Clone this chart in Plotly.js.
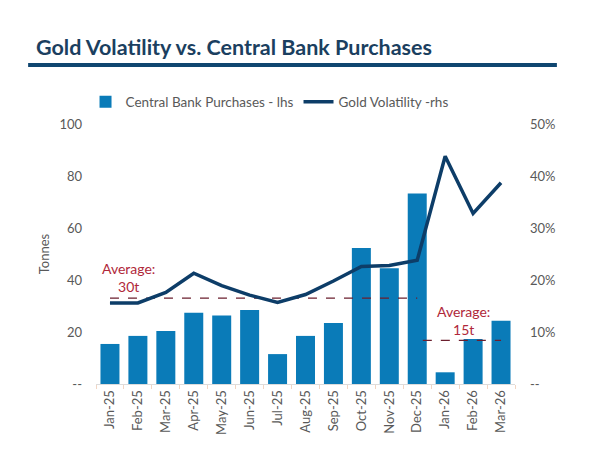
<!DOCTYPE html>
<html>
<head>
<meta charset="utf-8">
<script src="https://cdn.plot.ly/plotly-3.0.1.min.js"></script>
<style>html,body{margin:0;padding:0;background:#fff;}#chart{width:589px;height:464px;}</style>
</head>
<body>
<div id="chart"></div>
<script>
// Data
var months = ["Jan-25","Feb-25","Mar-25","Apr-25","May-25","Jun-25","Jul-25","Aug-25","Sep-25","Oct-25","Nov-25","Dec-25","Jan-26","Feb-26","Mar-26"];
var cbPurchases = [15.4, 18.5, 20.4, 27.4, 26.3, 28.5, 11.5, 18.5, 23.5, 52.3, 44.5, 73.3, 4.5, 17.3, 24.3];
var goldVol = [15.6, 15.6, 17.6, 21.3, 18.9, 17.1, 15.7, 17.2, 19.8, 22.6, 22.8, 23.8, 43.8, 32.8, 38.7];
var months2025 = months.slice(0, 12);
var avg2025Level = 33;   // visual position of the dashed line
var avg2026Level = 16.8;
var leftTicks = [0, 20, 40, 60, 80, 100];
var leftTickText = ["--", "20", "40", "60", "80", "100"];
var rightTicks = [0, 10, 20, 30, 40, 50];
var rightTickText = ["--", "10%", "20%", "30%", "40%", "50%"];

var gray = "#595959";
var font = "Lato, 'Open Sans', sans-serif";

var traces = [
  {
    type: "bar", name: "Central Bank Purchases - lhs",
    x: months, y: cbPurchases,
    marker: {color: "#0a7bb8"}, yaxis: "y"
  },
  {
    type: "scatter", mode: "lines", name: "Gold Volatility -rhs",
    x: months, y: goldVol, yaxis: "y2",
    line: {color: "#0d3d68", width: 3.5}
  },
  {
    type: "scatter", mode: "lines", showlegend: false, hoverinfo: "skip",
    x: months2025, y: months2025.map(function(){return avg2025Level;}),
    line: {color: "#6b1f2e", width: 1.2, dash: "dash"}, yaxis: "y"
  }
];

var layout = {
  width: 589, height: 464,
  paper_bgcolor: "#fff", plot_bgcolor: "#fff",
  margin: {l: 96, r: 74, t: 124, b: 80},
  font: {family: font, color: gray, size: 13},
  title: {
    text: "<b>Gold Volatility vs. Central Bank Purchases</b>",
    font: {family: font, size: 21.5, color: "#1b3f60"},
    x: 36/589, xref: "container", xanchor: "left",
    y: 1 - 47/464, yref: "container", yanchor: "middle"
  },
  bargap: 0.32,
  showlegend: true,
  legend: {
    orientation: "h", x: -0.025, xanchor: "left", y: 1.085, yanchor: "middle",
    font: {size: 13.5, color: gray}, itemwidth: 30, traceorder: "normal"
  },
  xaxis: {
    type: "category", tickangle: -90, tickfont: {size: 13, color: gray},
    showline: true, linecolor: "#dcdcdc", linewidth: 1,
    ticks: "outside", tickson: "boundaries", ticklen: 4, tickcolor: "#f2d6c4",
    showgrid: false, zeroline: false, range: [-0.5, 14.5]
  },
  yaxis: {
    range: [0, 100], tickvals: leftTicks, ticktext: leftTickText,
    showgrid: false, zeroline: false, showline: false, ticks: "",
    ticklabelstandoff: 13, tickfont: {size: 13, color: gray},
    title: {text: "Tonnes", font: {size: 13, color: gray}, standoff: 6}
  },
  yaxis2: {
    range: [0, 50], tickvals: rightTicks, ticktext: rightTickText,
    overlaying: "y", side: "right",
    showgrid: false, zeroline: false, showline: false, ticks: "",
    ticklabelstandoff: 14, tickfont: {size: 13, color: gray}
  },
  shapes: [
    {type: "line", xref: "paper", yref: "paper", x0: -0.162, x1: 1.1, y0: 1.227, y1: 1.227,
     line: {color: "#0f4670", width: 4}},
    {type: "line", xref: "x", yref: "y", x0: 11.2, x1: 14, y0: avg2026Level, y1: avg2026Level,
     line: {color: "#6b1f2e", width: 1.2, dash: "dash"}}
  ],
  annotations: [
    {text: "Average:<br>30t", x: 0.65, y: 40.8, xref: "x", yref: "y", showarrow: false,
     font: {size: 14, color: "#b0283a"}, align: "center"},
    {text: "Average:<br>15t", x: 12.65, y: 24.6, xref: "x", yref: "y", showarrow: false,
     font: {size: 14, color: "#b0283a"}, align: "center"}
  ]
};

Plotly.newPlot("chart", traces, layout, {displayModeBar: false, staticPlot: true});
</script>
</body>
</html>
